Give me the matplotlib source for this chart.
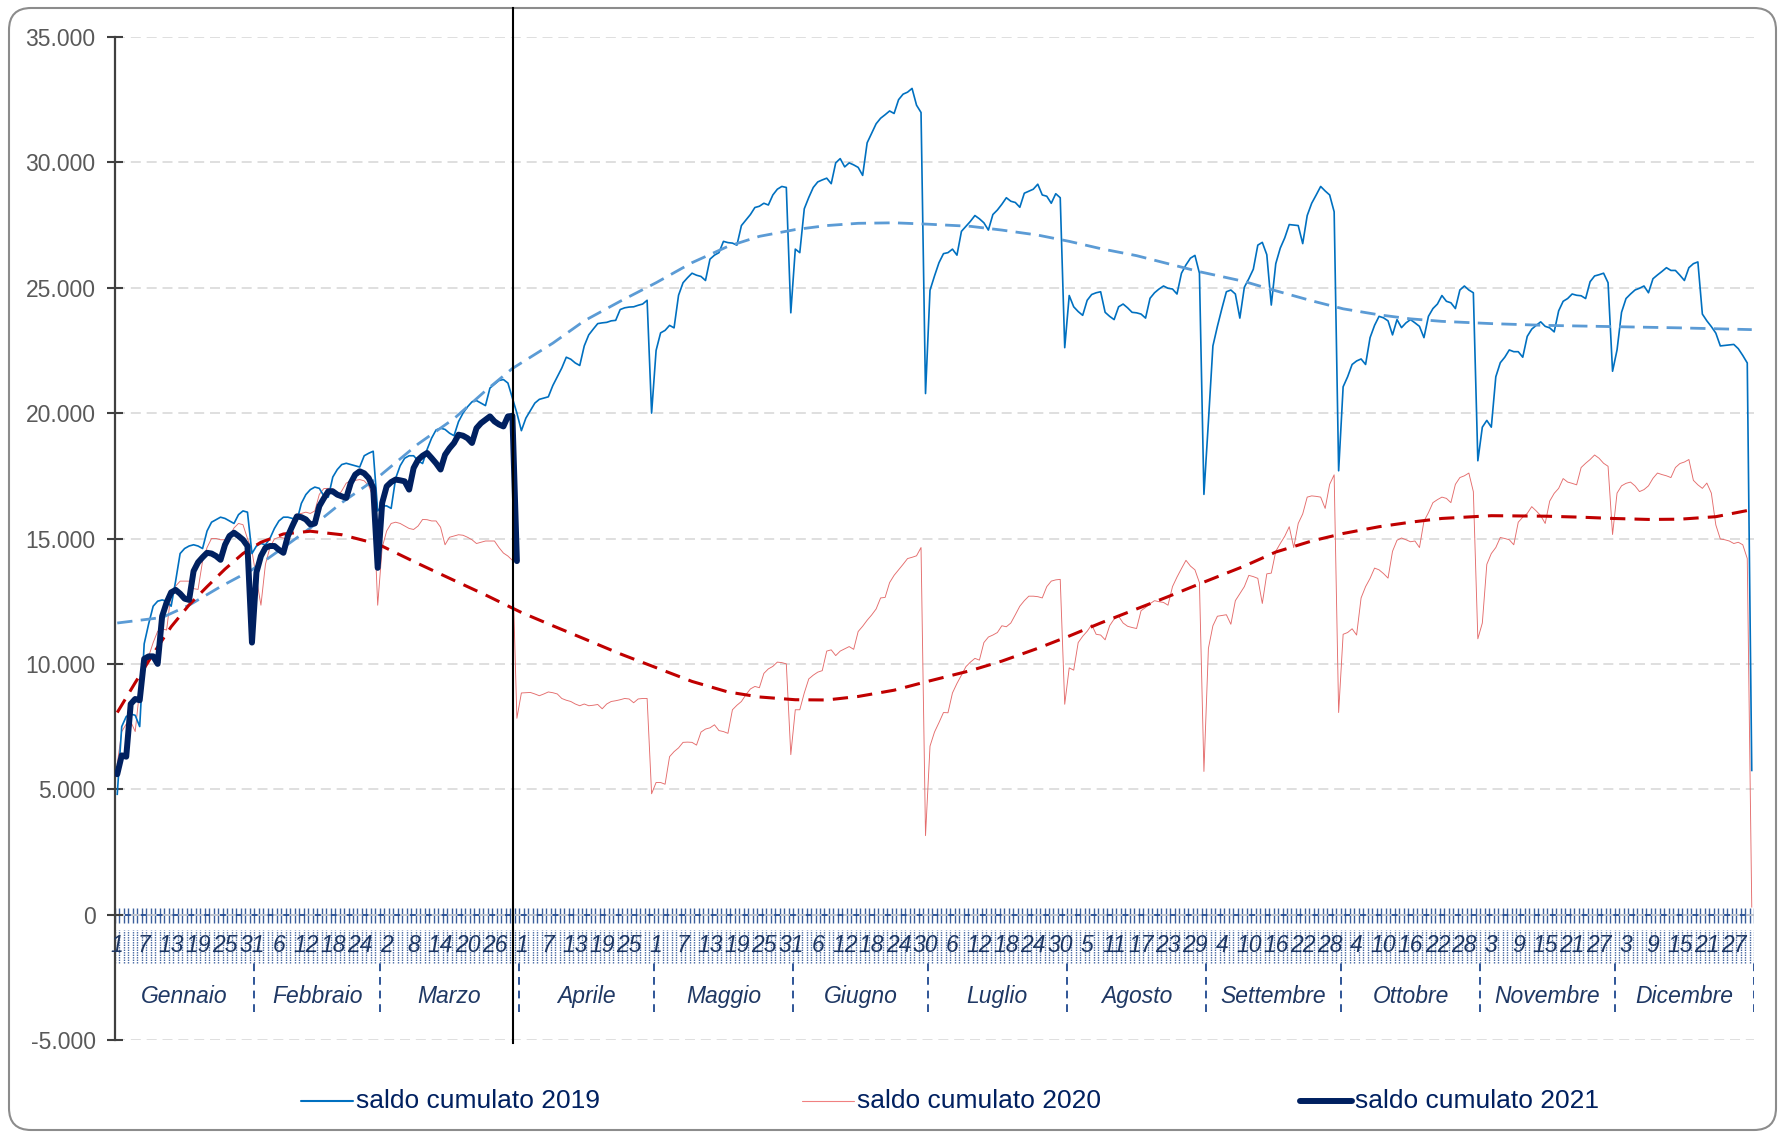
import numpy as np
import matplotlib.pyplot as plt
from matplotlib.patches import FancyBboxPatch
from matplotlib.lines import Line2D
from matplotlib.ticker import FuncFormatter, MultipleLocator

plt.rcParams['font.family'] = ['Liberation Sans', 'DejaVu Sans']

# categorie (asse x a due livelli)
mesi = ['Gennaio', 'Febbraio', 'Marzo', 'Aprile', 'Maggio', 'Giugno', 'Luglio',
        'Agosto', 'Settembre', 'Ottobre', 'Novembre', 'Dicembre']
giorni_mese = [31, 28, 31, 30, 31, 30, 31, 31, 30, 31, 30, 31]
etichette_giorni = ['1', '7', '13', '19', '25', '31', '6', '12', '18', '24',
                    '2', '8', '14', '20', '26', '1', '7', '13', '19', '25',
                    '1', '7', '13', '19', '25', '31', '6', '12', '18', '24', '30',
                    '6', '12', '18', '24', '30', '5', '11', '17', '23', '29',
                    '4', '10', '16', '22', '28', '4', '10', '16', '22', '28',
                    '3', '9', '15', '21', '27', '3', '9', '15', '21', '27']

saldo_2019 = [
    # gen
    4800, 7500, 7900, 8000, 7950, 7500, 10800, 11600, 12300, 12500, 12550, 12500, 12300, 13300, 14400, 14600,
    14700, 14750, 14700, 14600, 15300, 15650, 15750, 15850, 15800, 15700, 15600, 15950, 16100, 16050, 14400,
    # feb
    14700, 14800, 14750, 15000, 15400, 15700, 15850, 15850, 15800, 15700, 16400, 16750, 16950, 17050,
    17000, 16700, 16650, 17450, 17750, 17950, 18000, 17950, 17900, 17850, 18300, 18400, 18480, 16100,
    # mar
    16300, 16300, 16200, 17400, 17900, 18200, 18300, 18300, 18100, 17990, 18550, 19000, 19330, 19400, 19350, 19200,
    19100, 19660, 20000, 20250, 20450, 20500, 20400, 20300, 21000, 21150, 21300, 21340, 21200, 20600, 20000,
    # apr
    19300, 19800, 20100, 20400, 20550, 20600, 20650, 21100, 21450, 21800, 22230, 22150, 22000, 21900, 22680,
    23120, 23350, 23570, 23600, 23620, 23680, 23700, 24130, 24200, 24230, 24240, 24300, 24350, 24500, 20000,
    # mag
    22500, 23200, 23300, 23500, 23400, 24700, 25200, 25400, 25580, 25500, 25450, 25290, 26140, 26300, 26400, 26850,
    26800, 26780, 26700, 27480, 27700, 27920, 28200, 28250, 28370, 28300, 28700, 28930, 29040, 29000, 24000,
    # giu
    26540, 26400, 28150, 28600, 29000, 29220, 29300, 29370, 29150, 29980, 30150, 29820, 29980, 29900, 29800,
    29480, 30780, 31160, 31540, 31760, 31900, 32050, 31950, 32500, 32720, 32800, 32950, 32280, 31990, 20780,
    # lug
    24900, 25470, 26000, 26360, 26400, 26540, 26300, 27250, 27450, 27650, 27880, 27750, 27590, 27300, 27920, 28100,
    28330, 28590, 28450, 28400, 28210, 28770, 28850, 28930, 29130, 28700, 28650, 28370, 28750, 28590, 22610,
    # ago
    24690, 24240, 24050, 23900, 24500, 24730, 24800, 24840, 24020, 23860, 23730, 24240, 24350, 24200, 24020, 24000,
    23950, 23790, 24580, 24800, 24950, 25070, 24980, 24950, 24750, 25580, 25910, 26180, 26290, 25580, 16760,
    # set
    19660, 22680, 23460, 24170, 24840, 24910, 24750, 23790, 25020, 25360, 25740, 26700, 26810, 26320, 24310,
    25960, 26580, 26990, 27520, 27500, 27480, 26760, 27880, 28370, 28700, 29040, 28860, 28700, 28030, 17700,
    # ott
    21050, 21450, 21940, 22080, 22160, 21940, 23010, 23500, 23860, 23800, 23680, 23120, 23730, 23410, 23600, 23730,
    23600, 23460, 23010, 23860, 24170, 24350, 24690, 24460, 24400, 24170, 24910, 25070, 24910, 24800, 18100,
    # nov
    19440, 19710, 19440, 21450, 22010, 22230, 22520, 22450, 22450, 22230, 23060, 23350, 23500, 23640, 23460,
    23400, 23240, 24080, 24460, 24570, 24750, 24700, 24680, 24570, 25240, 25470, 25520, 25580, 25200, 21670,
    # dic
    22520, 24020, 24570, 24750, 24910, 24980, 25070, 24800, 25360, 25510, 25650, 25800, 25690, 25690, 25500, 25290,
    25800, 25960, 26030, 23950, 23680, 23450, 23190, 22680, 22700, 22720, 22740, 22570, 22300, 22000, 5750,
]

saldo_2020 = [
    # gen
    6000, 7300, 7600, 7700, 7300, 9000, 9700, 10300, 10850, 11300, 11400, 11350, 12850, 13100, 13300, 13300,
    13300, 13000, 12970, 14100, 14640, 15000, 15000, 14950, 14950, 15100, 15420, 15600, 15550, 15000, 14500,
    # feb
    13400, 12340, 13970, 14640, 14980, 15050, 15020, 14950, 15400, 15980, 16000, 16050, 16000, 16100,
    16760, 16990, 17000, 16990, 16650, 16900, 17210, 17300, 17320, 17350, 17300, 17100, 16650, 12340,
    # mar
    14640, 15300, 15600, 15650, 15600, 15500, 15400, 15360, 15500, 15760, 15750, 15700, 15700, 15450, 14750, 15050,
    15100, 15150, 15130, 15050, 14950, 14800, 14850, 14900, 14900, 14900, 14640, 14420, 14300, 14130, 7830,
    # apr
    8840, 8850, 8860, 8800, 8730, 8800, 8880, 8850, 8800, 8620, 8550, 8500, 8400, 8330, 8400,
    8330, 8350, 8380, 8210, 8400, 8500, 8530, 8570, 8620, 8600, 8450, 8600, 8620, 8620, 4820,
    # mag
    5270, 5270, 5200, 6300, 6500, 6650, 6870, 6880, 6870, 6760, 7280, 7400, 7450, 7570, 7340, 7300,
    7230, 8170, 8350, 8500, 8770, 9000, 9100, 9050, 9620, 9800, 9900, 10070, 10050, 10000, 6380,
    # giu
    8170, 8170, 8840, 9400, 9550, 9670, 9730, 10510, 10560, 10330, 10510, 10600, 10690, 10580, 11290,
    11500, 11740, 11950, 12190, 12630, 12650, 13240, 13530, 13750, 13970, 14200, 14250, 14310, 14640, 3150,
    # lug
    6720, 7280, 7660, 8060, 8050, 8840, 9220, 9550, 9890, 10070, 10220, 10150, 10850, 11070, 11150, 11250,
    11520, 11480, 11630, 11960, 12300, 12520, 12700, 12700, 12680, 12630, 13080, 13300, 13350, 13370, 8390,
    # ago
    9840, 9750, 10850, 11100, 11300, 11560, 11180, 11150, 10960, 11520, 11790, 11900, 11630, 11500, 11450, 11410,
    12120, 12250, 12400, 12520, 12480, 12450, 12340, 13080, 13460, 13800, 14130, 13900, 13750, 13240, 5710,
    # set
    10620, 11520, 11900, 11930, 11960, 11580, 12520, 12800, 13080, 13530, 13480, 13410, 12410, 13590, 13620,
    14490, 14800, 15090, 15470, 14640, 15600, 15980, 16650, 16700, 16680, 16650, 16200, 17160, 17540, 8060,
    # ott
    11180, 11250, 11400, 11150, 12630, 13080, 13410, 13820, 13750, 13600, 13420, 14490, 14930, 15020, 14950, 14870,
    14900, 14640, 15690, 16030, 16430, 16550, 16650, 16600, 16430, 17160, 17430, 17500, 17610, 16870, 11000,
    # nov
    11630, 13970, 14400, 14640, 15040, 15000, 14950, 14750, 15650, 15850, 16000, 16270, 16100, 15910, 15600,
    16490, 16800, 17000, 17390, 17250, 17200, 17140, 17830, 18000, 18150, 18330, 18200, 18000, 17880, 15160,
    # dic
    16810, 17100, 17200, 17250, 17100, 16870, 16950, 17100, 17400, 17610, 17550, 17500, 17430, 17830, 17990, 18050,
    18150, 17320, 17140, 17000, 17210, 16810, 15540, 14980, 14950, 14900, 14800, 14850, 14750, 14200, 300,
]

saldo_2021 = [
    # gen
    5600, 6350, 6300, 8400, 8600, 8550, 10200, 10300, 10300, 10000, 11900, 12450, 12850, 12950, 12800, 12600,
    12550, 13700, 14050, 14250, 14430, 14400, 14300, 14150, 14750, 15100, 15230, 15100, 14950, 14700, 10850,
    # feb
    13650, 14300, 14630, 14700, 14700, 14550, 14430, 15100, 15500, 15880, 15850, 15760, 15560, 15600,
    16290, 16600, 16880, 16880, 16750, 16680, 16620, 17215, 17550, 17680, 17600, 17410, 17020, 13830,
    # mar
    16420, 17080, 17250, 17350, 17320, 17280, 16950, 17810, 18140, 18300, 18410, 18210, 18000, 17750, 18340, 18600,
    18810, 19140, 19100, 19000, 18810, 19400, 19600, 19735, 19870, 19670, 19550, 19470, 19870, 19890, 14100,
]

# linee di tendenza
tend_2019_giorni = [0, 10, 16, 23, 30, 37, 43, 50, 58, 67, 75, 82, 88, 97, 104, 112, 120, 128, 136, 143,
                    151, 158, 165, 173, 180, 190, 197, 205, 212, 219, 227, 234, 241, 251, 258, 266, 273,
                    281, 288, 295, 306, 318, 333, 348, 364]
tend_2019 = [11630, 11850, 12340, 13080, 13750, 14640, 15420, 16430, 17430, 18770, 19780, 20890, 21780,
             22790, 23680, 24460, 25200, 26000, 26650, 27050, 27320, 27480, 27570, 27590, 27540, 27450,
             27300, 27100, 26850, 26560, 26280, 25960, 25640, 25250, 24880, 24480, 24160, 23920, 23760,
             23660, 23570, 23500, 23450, 23400, 23330]
tend_2020_giorni = [0, 4, 8, 12, 16, 20, 24, 28, 32, 37, 43, 50, 58, 67, 75, 82, 90, 97, 104, 112, 120,
                    128, 136, 143, 151, 158, 165, 173, 180, 190, 197, 205, 212, 219, 227, 234, 241, 251,
                    258, 266, 273, 281, 288, 295, 306, 318, 326, 333, 341, 348, 356, 364]
tend_2020 = [8060, 9250, 10400, 11480, 12350, 13080, 13780, 14400, 14850, 15180, 15290, 15150, 14780,
             14000, 13330, 12750, 12050, 11520, 11000, 10400, 9850, 9300, 8880, 8680, 8570, 8560, 8700,
             8950, 9280, 9730, 10110, 10620, 11110, 11630, 12190, 12680, 13190, 13900, 14460, 14900,
             15200, 15470, 15650, 15800, 15910, 15890, 15850, 15800, 15760, 15770, 15870, 16150]

giorno_oggi = 88.1  # linea verticale nera

W, H = 1783, 1136
fig = plt.figure(figsize=(W / 100, H / 100), dpi=100)

# bordo arrotondato del grafico
fig.patches.append(FancyBboxPatch((0.09, 0.06), 17.67, 11.22,
                                  boxstyle='round,pad=0,rounding_size=0.22',
                                  transform=fig.dpi_scale_trans, facecolor='white',
                                  edgecolor='#8C8C8C', linewidth=1.5, zorder=-5))

ax = fig.add_axes([115 / W, 1 - 1040 / H, (1754 - 115) / W, (1040 - 37) / H])
ax.set_facecolor('none')

x19 = np.arange(len(saldo_2019))
x20 = np.arange(len(saldo_2020))
x21 = np.arange(len(saldo_2021))

ax.plot(x20, saldo_2020, color='#E46C6C', lw=0.65, zorder=2)
ax.plot(x19, saldo_2019, color='#0070C0', lw=1.2, zorder=3)

ax.plot(tend_2019_giorni, tend_2019, color='#5B9BD5', lw=2.0, linestyle=(0, (5.5, 3)), zorder=4)
ax.plot(tend_2020_giorni, tend_2020, color='#C00000', lw=2.2, linestyle=(0, (5, 3)), zorder=4)

ax.plot(x21, saldo_2021, color='#002060', lw=4.3, solid_joinstyle='round',
        solid_capstyle='round', zorder=5)

ax.axvline(giorno_oggi, ymin=-0.003, ymax=1.029, color='black', lw=1.5,
           clip_on=False, zorder=6)

ax.set_xlim(-0.5, 364.5)
ax.set_ylim(-5000, 35000)
ax.yaxis.set_major_locator(MultipleLocator(5000))
ax.yaxis.set_major_formatter(FuncFormatter(lambda v, p: f'{int(v):,}'.replace(',', '.')))
ax.grid(axis='y', color='#D9D9D9', linestyle=(0, (6, 3.5)), lw=1.2, zorder=0)
ax.set_xticks([])
for s in ['top', 'right', 'bottom']:
    ax.spines[s].set_visible(False)
ax.spines['left'].set_color('#404040')
ax.spines['left'].set_linewidth(1.6)
ax.tick_params(axis='y', direction='inout', length=12, width=1.5, color='#404040',
               labelsize=16.5, labelcolor='#595959', pad=8)

# asse delle categorie (giorni + mesi)
blu_asse = '#2F5597'
bordi = np.arange(-0.5, 365)
ax.vlines(bordi, -320, 280, colors=blu_asse, lw=1.0, alpha=0.95, zorder=1)
ax.vlines(bordi, -1914, -600, colors=blu_asse, lw=1.0,
          linestyles=(0, (1, 0.8)), alpha=0.9, zorder=1)
ax.axhline(0, color=blu_asse, lw=1.4, zorder=1)
for k, lab in enumerate(etichette_giorni):
    ax.text(k * 6, -1230, lab, ha='center', va='center', fontsize=16.5,
            style='italic', color='#1F3864', zorder=3)

limiti = np.concatenate([[0], np.cumsum(giorni_mese)]) - 0.5
ax.vlines(limiti, -3867, -1914, colors=blu_asse, lw=1.4, linestyles=(0, (4, 3)), zorder=1)
for m, nome in enumerate(mesi):
    ax.text((limiti[m] + limiti[m + 1]) / 2, -3269, nome, ha='center', va='center',
            fontsize=16.5, style='italic', color='#1F3864')

# legenda
voci = [('saldo cumulato 2019', '#0070C0', 1.5, 301),
        ('saldo cumulato 2020', '#F08080', 0.8, 802),
        ('saldo cumulato 2021', '#002060', 4.3, 1300)]
yl = 1 - 1101 / H
for testo, col, lw, xp in voci:
    fig.lines.append(Line2D([xp / W, (xp + 52) / W], [yl, yl], transform=fig.transFigure,
                            color=col, lw=lw, solid_capstyle='round'))
    fig.text((xp + 55) / W, yl, testo, ha='left', va='center', fontsize=19,
             color='#002060')

fig.savefig('out.png', dpi=100)
